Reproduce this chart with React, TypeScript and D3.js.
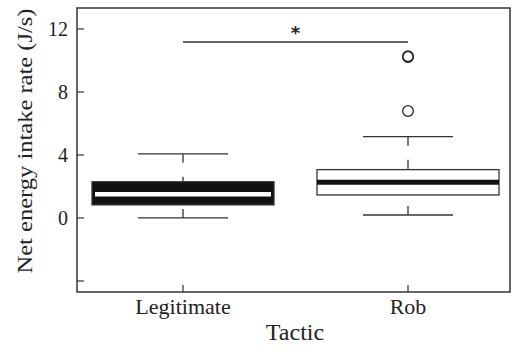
import * as d3 from "d3";

// data
const tactics = ["Legitimate", "Rob"];
const q1 = [0.83, 1.46];
const median = [1.51, 2.27];
const q3 = [2.3, 3.07];
const whiskerLow = [0.0, 0.19];
const whiskerHigh = [4.07, 5.16];
const robOutliers = [10.22, 10.27, 6.79];
const yTicks = [-4, 0, 4, 8, 12];
const sigLevel = 11.17;

const W = 515;
const H = 357;
const margin = { top: 8, right: 5, bottom: 65, left: 77 };
const FONT = "'Liberation Serif', 'Times New Roman', serif";

export default function App() {
  const innerW = W - margin.left - margin.right;
  const innerH = H - margin.top - margin.bottom;

  const x = d3.scalePoint<string>().domain(tactics).range([106, 331]);
  const y = d3.scaleLinear().domain([-4.7, 13.33]).range([innerH, 0]);
  const boxW = 182;
  const capW = 90;

  return (
    <svg
      width={W}
      height={H}
      style={{ position: "absolute", left: 0, top: 0, background: "#fff" }}
      fontFamily={FONT}
    >
      <g transform={`translate(${margin.left},${margin.top})`}>
        {/* frame */}
        <rect x={0} y={0} width={innerW} height={innerH} fill="none" stroke="#333" strokeWidth={1.5} />

        {/* y ticks, inward */}
        {yTicks.map((t) => (
          <g key={t} transform={`translate(0,${y(t)})`}>
            <line x1={0} x2={7} stroke="#333" strokeWidth={1.2} />
            {t > -4 && (
              <text x={-9} dy="0.35em" textAnchor="end" fontSize={20} fill="#222">
                {t}
              </text>
            )}
          </g>
        ))}

        {/* x ticks, inward */}
        {tactics.map((c) => (
          <g key={c} transform={`translate(${x(c)},${innerH})`}>
            <line y1={0} y2={-7} stroke="#333" strokeWidth={1.2} />
            <text y={22} textAnchor="middle" fontSize={22} fill="#222">
              {c}
            </text>
          </g>
        ))}

        {/* boxes */}
        {tactics.map((c, i) => {
          const cx = x(c)!;
          const filled = i === 0;
          return (
            <g key={c}>
              <line x1={cx} x2={cx} y1={y(whiskerHigh[i])} y2={y(q3[i])} stroke="#333" strokeWidth={1.3} strokeDasharray="9,14" />
              <line x1={cx} x2={cx} y1={y(whiskerLow[i])} y2={y(q1[i])} stroke="#333" strokeWidth={1.3} strokeDasharray="9,14" />
              <line x1={cx - capW / 2} x2={cx + capW / 2} y1={y(whiskerHigh[i])} y2={y(whiskerHigh[i])} stroke="#333" strokeWidth={1.3} />
              <line x1={cx - capW / 2} x2={cx + capW / 2} y1={y(whiskerLow[i])} y2={y(whiskerLow[i])} stroke="#333" strokeWidth={1.3} />
              <rect
                x={cx - boxW / 2}
                y={y(q3[i])}
                width={boxW}
                height={y(q1[i]) - y(q3[i])}
                fill={filled ? "#111" : "#fff"}
                stroke="#333"
                strokeWidth={1.3}
              />
              <line
                x1={cx - boxW / 2 + (filled ? 3 : 0)}
                x2={cx + boxW / 2 - (filled ? 3 : 0)}
                y1={y(median[i])}
                y2={y(median[i])}
                stroke={filled ? "#fff" : "#111"}
                strokeWidth={filled ? 4.5 : 5}
              />
            </g>
          );
        })}

        {/* outliers */}
        {robOutliers.map((v, j) => (
          <circle key={j} cx={x("Rob")!} cy={y(v)} r={5.3} fill="none" stroke="#222" strokeWidth={1.3} />
        ))}

        {/* significance bar */}
        <line x1={x("Legitimate")!} x2={x("Rob")!} y1={y(sigLevel)} y2={y(sigLevel)} stroke="#666" strokeWidth={2} />
        <text x={(x("Legitimate")! + x("Rob")!) / 2} y={y(sigLevel) - 3} textAnchor="middle" fontSize={18} fontWeight="bold" fontFamily="'DejaVu Sans', sans-serif" fill="#222">
          *
        </text>

        {/* axis titles */}
        <text
          transform={`translate(-45,${133}) rotate(-90)`}
          textAnchor="middle"
          fontSize={21}
          textLength={265}
          lengthAdjust="spacingAndGlyphs"
          fill="#222"
        >
          Net energy intake rate (J/s)
        </text>
        <text x={218} y={innerH + 48} textAnchor="middle" fontSize={24} fill="#222">
          Tactic
        </text>
      </g>
    </svg>
  );
}
